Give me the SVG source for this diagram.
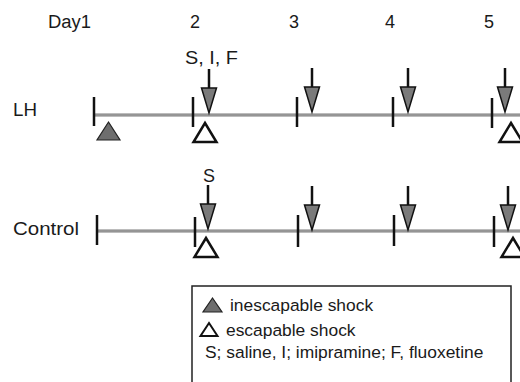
<svg xmlns="http://www.w3.org/2000/svg" width="520" height="382" viewBox="0 0 520 382">
<defs>
<style>
text{font-family:"Liberation Sans",Arial,sans-serif;fill:#1a1a1a}
.lbl{font-size:18px}
.leg{font-size:17.4px}
.axis{stroke:#7a7a7a;stroke-width:3;fill:none}
.axisin{stroke:#b0b0b0;stroke-width:1;fill:none}
.tick{stroke:#111;stroke-width:2.5}
.shaft{stroke:#111;stroke-width:2.5}
.head{fill:#7a7a7a;stroke:#111;stroke-width:1.5;stroke-linejoin:miter}
.esc{fill:#fff;stroke:#111;stroke-width:2.5;stroke-linejoin:miter}
.inesc{fill:#6e6e6e;stroke:#222;stroke-width:1.2}
</style>
<g id="arrow">
<line class="shaft" x1="0" y1="-42" x2="0" y2="-22"/>
<polygon class="head" points="-7.5,-23 7.5,-23 0,2"/>
</g>
<polygon id="open" class="esc" points="0,0 11.5,19 -11.5,19"/>
</defs>

<g id="day-labels">
<text class="lbl" x="48" y="28" textLength="43" lengthAdjust="spacingAndGlyphs">Day1</text>
<text class="lbl" x="195" y="28" text-anchor="middle">2</text>
<text class="lbl" x="294" y="28" text-anchor="middle">3</text>
<text class="lbl" x="390" y="28" text-anchor="middle">4</text>
<text class="lbl" x="489" y="28" text-anchor="middle">5</text>
</g>

<g id="connectors">
<line class="axis" x1="94" y1="115" x2="520" y2="115"/>
<line class="axisin" x1="94" y1="115" x2="520" y2="115"/>
<line class="axis" x1="97" y1="231" x2="520" y2="231"/>
<line class="axisin" x1="97" y1="231" x2="520" y2="231"/>
</g>

<g id="LH">
<text class="lbl" x="13" y="116" textLength="24" lengthAdjust="spacingAndGlyphs">LH</text>
<line class="tick" x1="94" y1="97" x2="94" y2="126"/>
<line class="tick" x1="193" y1="97" x2="193" y2="127"/>
<line class="tick" x1="297" y1="97" x2="297" y2="127"/>
<line class="tick" x1="393" y1="97" x2="393" y2="127"/>
<line class="tick" x1="492" y1="98" x2="492" y2="128"/>
<text class="lbl" x="185" y="64" textLength="53" lengthAdjust="spacingAndGlyphs">S, I, F</text>
<use href="#arrow" x="209" y="111"/>
<use href="#arrow" x="312" y="110"/>
<use href="#arrow" x="408" y="110"/>
<use href="#arrow" x="505" y="110"/>
<polygon class="inesc" points="108.5,122 120,140 97,140"/>
<use href="#open" x="205" y="123"/>
<use href="#open" x="511" y="123"/>
</g>

<g id="Control">
<text class="lbl" x="13" y="235" textLength="66" lengthAdjust="spacingAndGlyphs">Control</text>
<line class="tick" x1="97" y1="215" x2="97" y2="245"/>
<line class="tick" x1="195" y1="217" x2="195" y2="247"/>
<line class="tick" x1="298" y1="215" x2="298" y2="247"/>
<line class="tick" x1="394" y1="215" x2="394" y2="246"/>
<line class="tick" x1="494" y1="216" x2="494" y2="247"/>
<text class="lbl" x="209" y="182" text-anchor="middle">S</text>
<use href="#arrow" x="208" y="227"/>
<use href="#arrow" x="312" y="228"/>
<use href="#arrow" x="408" y="228"/>
<use href="#arrow" x="508" y="228"/>
<use href="#open" x="206" y="238"/>
<use href="#open" x="513" y="238"/>
</g>

<g id="legend">
<rect x="192" y="286" width="319" height="110" fill="none" stroke="#222" stroke-width="1.5"/>
<polygon class="inesc" points="212.5,298 222,312 203,312"/>
<text class="leg" x="230" y="311">inescapable shock</text>
<polygon class="esc" points="209,323 217.5,336 200.5,336" style="stroke-width:2"/>
<text class="leg" x="226" y="336">escapable shock</text>
<text class="leg" x="205" y="358">S; saline, I; imipramine; F, fluoxetine</text>
</g>
</svg>
